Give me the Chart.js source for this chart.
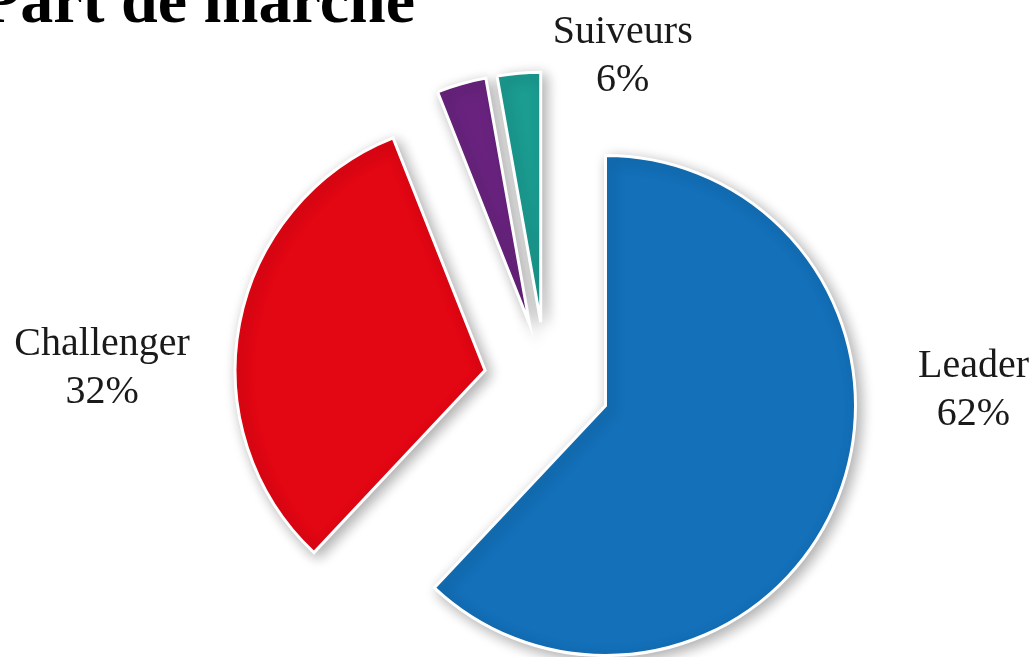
<!DOCTYPE html>
<html lang="fr">
<head>
    <meta charset="UTF-8">
    <title>Part de marché</title>
    <script src="https://cdn.jsdelivr.net/npm/chart.js"></script>
    <style>
        html, body { margin: 0; padding: 0; background: #fff; overflow: hidden; }
        #wrap { position: relative; width: 1036px; height: 657px; }
        h1 {
            position: absolute; left: -20px; top: -33px; margin: 0;
            font: bold 66px/66px "Liberation Serif", "Times New Roman", serif;
            color: #000; white-space: nowrap; z-index: 2;
        }
        canvas { position: absolute; left: 0; top: 0; }
    </style>
</head>
<body>
<div id="wrap">
    <h1>Part de marché</h1>
    <canvas id="pie" width="1036" height="657"></canvas>
</div>
<script>
    // data
    const categories = ["Leader", "Challenger", "Suiveurs", "Suiveurs"];
    const shares = [62, 32, 3.2, 2.8];
    const sliceColors = ["#1370b9", "#e30613", "#69237f", "#1b9d92"];
    // how far each slice is pulled out from the centre, px
    const explode = [64, 62, 60, 60];

    // outside labels: text lines and the slices they belong to
    const labelLines = [["Leader", "62%"], ["Challenger", "32%"], ["Suiveurs", "6%"]];
    const labelSlices = [[0], [1], [2, 3]];

    function sliceShift(arc, i) {
        const p = arc.getProps(["startAngle", "endAngle"], true);
        const half = (p.startAngle + p.endAngle) / 2;
        return { dx: Math.cos(half) * explode[i], dy: Math.sin(half) * explode[i] };
    }

    function edgePoint(arc, i, angle) {
        const p = arc.getProps(["x", "y", "outerRadius"], true);
        const s = sliceShift(arc, i);
        return {
            x: p.x + s.dx + Math.cos(angle) * p.outerRadius,
            y: p.y + s.dy + Math.sin(angle) * p.outerRadius
        };
    }

    // pulls slices out (Chart.js' own offset also grows the radius)
    const explodePlugin = {
        id: "explode",
        beforeDatasetsDraw(chart) {
            chart.getDatasetMeta(0).data.forEach((arc, i) => {
                if (arc._exploded) return;
                const orig = arc.draw.bind(arc);
                arc.draw = function (ctx, area) {
                    const s = sliceShift(arc, i);
                    ctx.save();
                    ctx.translate(s.dx, s.dy);
                    orig(ctx, area);
                    ctx.restore();
                };
                arc._exploded = true;
            });
            const ctx = chart.ctx;
            ctx.save();
            ctx.shadowColor = "rgba(0,0,0,0.32)";
            ctx.shadowBlur = 14;
            ctx.shadowOffsetX = 4;
            ctx.shadowOffsetY = 4;
        },
        afterDatasetsDraw(chart) {
            chart.ctx.restore();
        }
    };

    const labelPlugin = {
        id: "outsideLabels",
        afterDraw(chart) {
            const ctx = chart.ctx;
            const arcs = chart.getDatasetMeta(0).data;
            const lh = 48;
            ctx.save();
            ctx.font = '40px "Liberation Serif", "Times New Roman", serif';
            ctx.fillStyle = "#1a1a1a";
            ctx.textBaseline = "alphabetic";
            ctx.textAlign = "center";
            labelLines.forEach((lines, i) => {
                const idx = labelSlices[i];
                let x, y;
                if (i === 0) {
                    const e = edgePoint(arcs[idx[0]], idx[0], 0);
                    x = e.x + 118; y = e.y - 29;
                } else if (i === 1) {
                    const e = edgePoint(arcs[idx[0]], idx[0], Math.PI);
                    x = e.x - 133; y = e.y - 15;
                } else {
                    const k = idx[idx.length - 1];
                    const e = edgePoint(arcs[k], k, -Math.PI / 2);
                    x = e.x + 82; y = e.y - 29;
                }
                lines.forEach((t, k) => ctx.fillText(t, x, y + k * lh));
            });
            ctx.restore();
        }
    };

    new Chart(document.getElementById("pie"), {
        type: "pie",
        data: {
            labels: categories,
            datasets: [{
                data: shares,
                backgroundColor: sliceColors,
                borderColor: "#ffffff",
                borderWidth: 3,
                borderJoinStyle: "miter",
                offset: 0,
                radius: 250,
                clip: false
            }]
        },
        options: {
            responsive: false,
            animation: false,
            layout: { padding: { left: 56, right: 0, top: 107, bottom: 0 } },
            plugins: {
                legend: { display: false },
                tooltip: { enabled: false },
                title: { display: false }
            }
        },
        plugins: [explodePlugin, labelPlugin]
    });
</script>
</body>
</html>
